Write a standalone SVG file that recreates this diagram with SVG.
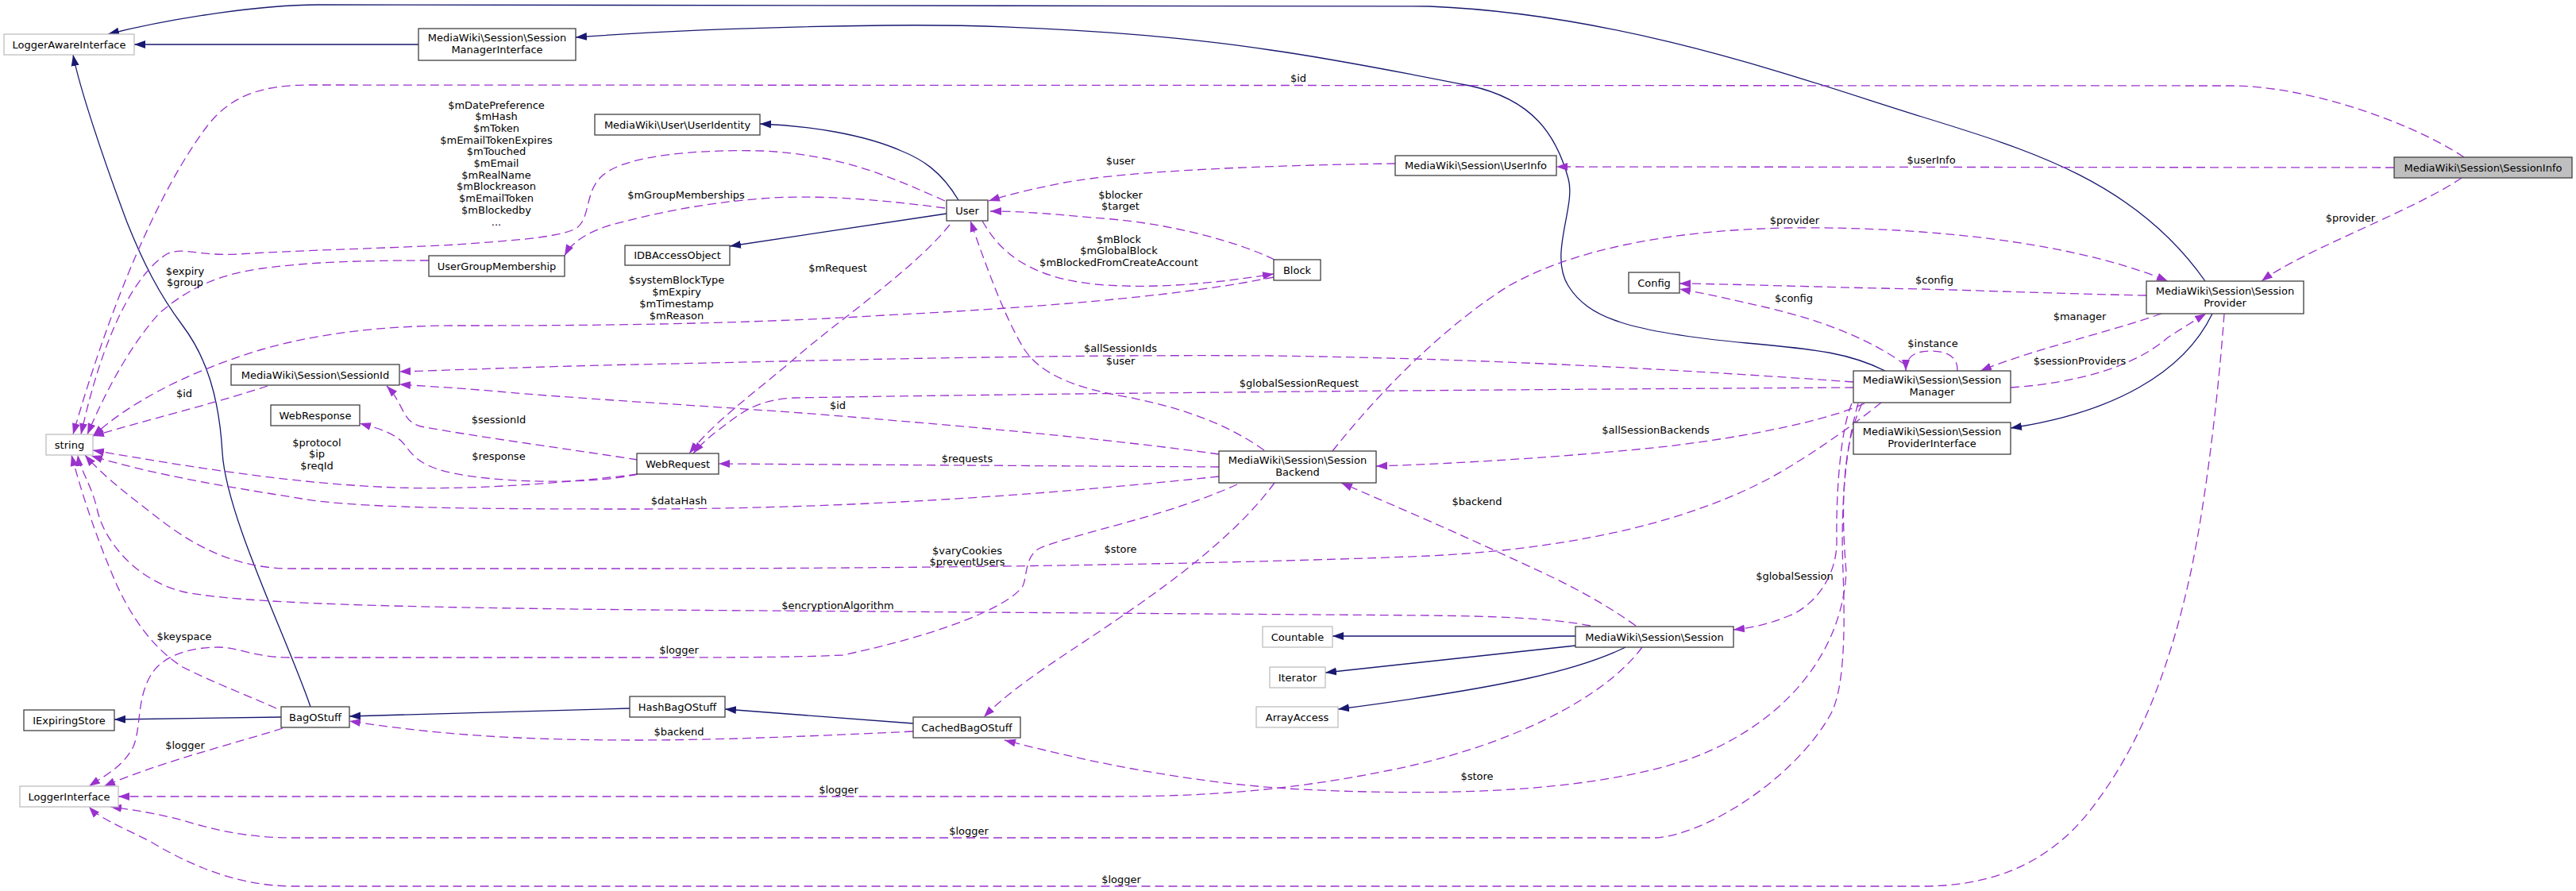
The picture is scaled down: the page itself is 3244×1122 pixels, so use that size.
<svg xmlns="http://www.w3.org/2000/svg" width="3244" height="1122" viewBox="0 0 3244 1122">
<style>
.n rect{fill:#fff;stroke:#404040;stroke-width:1.3}
.n.g rect{stroke:#bfbfbf}
.n.s rect{fill:#bfbfbf}
text{font-family:"DejaVu Sans",sans-serif;font-size:13px;fill:#000}
.n text{text-anchor:middle}
.lb text{text-anchor:middle}
.e path{fill:none;stroke:#191970;stroke-width:1.3;marker-end:url(#an)}
.u path{fill:none;stroke:#9a32cd;stroke-width:1.3;stroke-dasharray:11 6;marker-end:url(#ap)}
</style>
<defs>
<marker id="an" markerUnits="userSpaceOnUse" viewBox="0 0 15 12" markerWidth="15" markerHeight="12" refX="14" refY="6" orient="auto"><path d="M0,1 L14,6 L0,11 z" fill="#191970" stroke="none"/></marker>
<marker id="ap" markerUnits="userSpaceOnUse" viewBox="0 0 15 12" markerWidth="15" markerHeight="12" refX="14" refY="6" orient="auto"><path d="M0,1 L14,6 L0,11 z" fill="#9a32cd" stroke="none"/></marker>
</defs>
<rect width="3244" height="1122" fill="#fff"/>
<g id="connectors">
<g class="e">
<path d="M2777,354 C2690,230 2560,190 2420,147 S2050,18 1800,8 L400,6 C330,6 220,22 136,43"/>
<path d="M527,56 L169,56"/>
<path d="M2374,467 C2330,445 2290,440 2200,432 C2050,418 2000,400 1975,360 C1950,320 1985,260 1975,225 C1960,170 1930,125 1851,108 C1760,90 1650,70 1600,63 C1450,40 1250,30 1114,32 C950,34 820,40 725,47"/>
<path d="M391,890 C360,800 285,650 280,570 C276,500 260,450 230,410 C200,370 180,330 160,280 C130,200 100,110 92,69"/>
<path d="M1207,252 C1185,215 1160,200 1135,190 C1090,170 1020,158 957,156"/>
<path d="M1192,269 L919,310"/>
<path d="M2786,395 C2750,470 2660,520 2532,539"/>
<path d="M793,892 L440,902"/>
<path d="M1150,911 L913,893"/>
<path d="M1984,801 L1678,801"/>
<path d="M1984,813 L1669,847"/>
<path d="M2047,815 C1990,843 1900,865 1685,893"/>
<path d="M354,903 L144,906"/>
</g>
<g class="u">
<path d="M3103,198 C3030,150 2900,108 2810,108 L390,107 C330,107 290,120 260,160 C200,240 140,380 92,547"/>
<path d="M3015,211 L1960,210"/>
<path d="M3100,224 C3040,265 2900,315 2848,354"/>
<path d="M1757,206 C1600,208 1420,215 1340,230 C1300,238 1270,245 1245,253"/>
<path d="M1190,253 C1120,222 1060,195 960,190 C880,188 790,195 760,220 C735,240 745,275 725,288 C700,300 640,303 575,308 C480,313 380,315 300,320 C250,323 230,310 210,320 C170,345 130,420 102,547"/>
<path d="M1190,262 C1100,250 1020,245 960,250 C880,256 820,270 770,283 C740,292 720,305 711,322"/>
<path d="M540,328 C450,328 390,330 330,338 C280,345 240,360 200,395 C160,440 130,500 110,547"/>
<path d="M1605,327 C1560,305 1480,283 1400,276 C1330,270 1290,266 1247,266"/>
<path d="M1237,278 C1260,320 1300,350 1380,358 C1460,365 1540,355 1604,345"/>
<path d="M1604,349 C1500,370 1350,385 1114,397 C900,410 700,410 575,410 C480,410 400,420 330,440 C230,470 160,510 117,549"/>
<path d="M1196,283 C1150,340 1060,400 1000,452 C950,495 900,530 868,571"/>
<path d="M1592,567 C1540,530 1480,512 1420,500 C1350,488 1310,470 1290,440 C1265,400 1240,330 1222,278"/>
<path d="M2334,481 C2150,468 1900,452 1600,448 C1300,446 1000,455 800,459 C700,461 600,465 503,468"/>
<path d="M1535,572 C1400,553 1200,535 1009,520 C900,512 700,500 628,493 C570,488 530,486 503,484"/>
<path d="M2334,488 C2000,490 1400,494 1000,501 C960,503 940,515 920,530 C900,545 885,556 873,571"/>
<path d="M1535,588 L905,584"/>
<path d="M1535,600 C1300,625 1050,641 800,641 C600,641 450,640 380,628 C300,615 200,600 115,574"/>
<path d="M803,597 C700,610 580,617 500,614 C380,610 250,590 117,567"/>
<path d="M803,579 C720,566 600,550 530,537 C505,530 510,510 487,486"/>
<path d="M803,597 C740,612 600,608 549,590 C520,580 515,565 505,555 C490,542 470,538 453,533"/>
<path d="M2369,507 C2340,530 2300,560 2250,590 C2150,650 2000,690 1800,700 C1500,712 1100,716 800,716 L366,716 C300,716 250,690 209,660 C170,630 130,600 107,573"/>
<path d="M2003,788 C1950,778 1880,776 1800,775 L820,768 C500,765 300,760 230,745 C170,730 130,680 122,640 C115,610 100,590 98,573"/>
<path d="M348,892 C310,875 270,860 230,840 C190,815 160,770 140,720 C115,660 100,610 90,573"/>
<path d="M1558,610 C1470,650 1360,670 1310,690 C1290,700 1294,725 1288,738 C1270,765 1180,800 1061,825 C1000,828 900,828 800,828 L366,828 C320,828 300,815 275,815 C240,815 205,825 190,850 C172,880 178,915 168,940 C155,965 135,975 112,990"/>
<path d="M1605,608 C1560,670 1480,730 1417,773 C1350,820 1280,860 1239,903"/>
<path d="M356,917 C300,935 200,960 131,990"/>
<path d="M1150,921 C1000,928 900,932 800,932 C650,932 550,925 440,908"/>
<path d="M2060,788 C2000,745 1940,720 1882,693 C1810,660 1740,630 1689,608"/>
<path d="M2068,815 C2020,880 1900,940 1750,970 C1650,990 1550,1003 1400,1003 L149,1003"/>
<path d="M2345,508 C2320,560 2318,640 2325,720 C2320,820 2250,910 2130,955 C2000,1000 1800,1003 1620,993 C1500,985 1380,962 1265,932"/>
<path d="M2340,508 C2322,570 2318,650 2321,720 C2324,800 2322,870 2305,900 C2260,980 2150,1050 2086,1055 L370,1055 C310,1055 270,1045 230,1033 C200,1025 170,1020 139,1016"/>
<path d="M2801,395 C2795,480 2780,620 2759,720 C2735,830 2700,930 2640,1010 C2590,1080 2520,1116 2420,1116 L370,1116 C300,1116 240,1090 190,1060 C150,1040 125,1030 112,1016"/>
<path d="M2348,508 C2300,530 2200,550 2100,562 C1950,578 1800,585 1733,587"/>
<path d="M2332,508 C2318,540 2312,620 2313,680 C2314,730 2280,765 2254,775 C2230,785 2210,790 2183,793"/>
<path d="M2722,395 C2650,420 2560,440 2494,467"/>
<path d="M2532,488 C2620,482 2690,460 2730,425 C2750,412 2765,403 2778,395"/>
<path d="M2465,467 C2466,448 2450,442 2432,442 C2412,442 2400,448 2400,467"/>
<path d="M2400,460 C2360,430 2300,405 2228,388 C2180,377 2150,370 2115,364"/>
<path d="M2703,372 C2600,370 2500,366 2420,364 C2300,362 2200,358 2115,357"/>
<path d="M1678,568 C1740,490 1820,410 1900,360 C1980,315 2100,290 2250,287 C2400,285 2600,300 2730,354"/>
<path d="M337,486 C280,505 200,525 117,549"/>
</g>
<g class="lb">
<text x="1635" y="103">$id</text>
<text x="2432" y="206">$userInfo</text>
<text x="2960" y="279">$provider</text>
<text x="1411" y="207">$user</text>
<text x="625" y="136.5">$mDatePreference</text>
<text x="625" y="151.2">$mHash</text>
<text x="625" y="165.9">$mToken</text>
<text x="625" y="180.6">$mEmailTokenExpires</text>
<text x="625" y="195.3">$mTouched</text>
<text x="625" y="210">$mEmail</text>
<text x="625" y="224.7">$mRealName</text>
<text x="625" y="239.4">$mBlockreason</text>
<text x="625" y="254.1">$mEmailToken</text>
<text x="625" y="268.8">$mBlockedby</text>
<text x="625" y="283.5">...</text>
<text x="864" y="250">$mGroupMemberships</text>
<text x="233" y="346">$expiry</text>
<text x="233" y="360">$group</text>
<text x="1411" y="250">$blocker</text>
<text x="1411" y="264">$target</text>
<text x="1409" y="306">$mBlock</text>
<text x="1409" y="320">$mGlobalBlock</text>
<text x="1409" y="335">$mBlockedFromCreateAccount</text>
<text x="852" y="357">$systemBlockType</text>
<text x="852" y="372">$mExpiry</text>
<text x="852" y="387">$mTimestamp</text>
<text x="852" y="402">$mReason</text>
<text x="1055" y="342">$mRequest</text>
<text x="1411" y="443">$allSessionIds</text>
<text x="1411" y="459">$user</text>
<text x="1055" y="515">$id</text>
<text x="1636" y="487">$globalSessionRequest</text>
<text x="1218" y="582">$requests</text>
<text x="855" y="635">$dataHash</text>
<text x="399" y="562">$protocol</text>
<text x="399" y="576">$ip</text>
<text x="399" y="591">$reqId</text>
<text x="628" y="533">$sessionId</text>
<text x="628" y="579">$response</text>
<text x="1218" y="698">$varyCookies</text>
<text x="1218" y="712">$preventUsers</text>
<text x="1055" y="767">$encryptionAlgorithm</text>
<text x="232" y="806">$keyspace</text>
<text x="855" y="823">$logger</text>
<text x="1411" y="696">$store</text>
<text x="233" y="943">$logger</text>
<text x="855" y="926">$backend</text>
<text x="1860" y="636">$backend</text>
<text x="1056" y="999">$logger</text>
<text x="1860" y="982">$store</text>
<text x="1220" y="1051">$logger</text>
<text x="1412" y="1112">$logger</text>
<text x="2085" y="546">$allSessionBackends</text>
<text x="2260" y="730">$globalSession</text>
<text x="2619" y="403">$manager</text>
<text x="2619" y="459">$sessionProviders</text>
<text x="2434" y="437">$instance</text>
<text x="2259" y="380">$config</text>
<text x="2436" y="357">$config</text>
<text x="2260" y="282">$provider</text>
<text x="232" y="500">$id</text>
</g>
</g>
<g id="LoggerAwareInterface" class="n g"><rect x="5" y="43" width="164" height="26"/><text x="87" y="60.5">LoggerAwareInterface</text></g>
<g id="SessionManagerInterface" class="n"><rect x="527" y="36" width="198" height="40"/><text x="626" y="52">MediaWiki\Session\Session</text><text x="626" y="67">ManagerInterface</text></g>
<g id="UserIdentity" class="n"><rect x="749" y="144" width="208" height="26"/><text x="853" y="161.5">MediaWiki\User\UserIdentity</text></g>
<g id="User" class="n"><rect x="1192" y="252" width="52" height="26"/><text x="1218" y="269.5">User</text></g>
<g id="IDBAccessObject" class="n"><rect x="787" y="309" width="132" height="25"/><text x="853" y="326">IDBAccessObject</text></g>
<g id="UserGroupMembership" class="n"><rect x="540" y="322" width="171" height="26"/><text x="625.5" y="339.5">UserGroupMembership</text></g>
<g id="Block" class="n"><rect x="1604" y="327" width="59" height="26"/><text x="1633.5" y="344.5">Block</text></g>
<g id="UserInfo" class="n"><rect x="1757" y="196" width="203" height="25"/><text x="1858.5" y="213">MediaWiki\Session\UserInfo</text></g>
<g id="Config" class="n"><rect x="2051" y="343" width="64" height="26"/><text x="2083" y="360.5">Config</text></g>
<g id="SessionInfo" class="n s"><rect x="3015" y="198" width="224" height="26"/><text x="3127" y="215.5">MediaWiki\Session\SessionInfo</text></g>
<g id="SessionProvider" class="n"><rect x="2703" y="354" width="198" height="41"/><text x="2802" y="371">MediaWiki\Session\Session</text><text x="2802" y="386">Provider</text></g>
<g id="SessionManager" class="n"><rect x="2334" y="467" width="198" height="40"/><text x="2433" y="483">MediaWiki\Session\Session</text><text x="2433" y="498">Manager</text></g>
<g id="SessionProviderInterface" class="n"><rect x="2334" y="532" width="198" height="40"/><text x="2433" y="548">MediaWiki\Session\Session</text><text x="2433" y="563">ProviderInterface</text></g>
<g id="SessionBackend" class="n"><rect x="1535" y="568" width="198" height="40"/><text x="1634" y="584">MediaWiki\Session\Session</text><text x="1634" y="599">Backend</text></g>
<g id="WebRequest" class="n"><rect x="802" y="571" width="103" height="26"/><text x="853.5" y="588.5">WebRequest</text></g>
<g id="SessionId" class="n"><rect x="291" y="459" width="212" height="26"/><text x="397" y="476.5">MediaWiki\Session\SessionId</text></g>
<g id="WebResponse" class="n"><rect x="341" y="510" width="112" height="26"/><text x="397" y="527.5">WebResponse</text></g>
<g id="string" class="n g"><rect x="58" y="547" width="59" height="26"/><text x="87.5" y="564.5">string</text></g>
<g id="IExpiringStore" class="n"><rect x="30" y="894" width="114" height="26"/><text x="87" y="911.5">IExpiringStore</text></g>
<g id="BagOStuff" class="n"><rect x="354" y="890" width="86" height="26"/><text x="397" y="907.5">BagOStuff</text></g>
<g id="LoggerInterface" class="n g"><rect x="25" y="990" width="124" height="26"/><text x="87" y="1007.5">LoggerInterface</text></g>
<g id="HashBagOStuff" class="n"><rect x="793" y="877" width="120" height="26"/><text x="853" y="894.5">HashBagOStuff</text></g>
<g id="CachedBagOStuff" class="n"><rect x="1150" y="903" width="135" height="26"/><text x="1217.5" y="920.5">CachedBagOStuff</text></g>
<g id="Countable" class="n g"><rect x="1590" y="789" width="88" height="26"/><text x="1634" y="806.5">Countable</text></g>
<g id="Iterator" class="n g"><rect x="1599" y="840" width="70" height="26"/><text x="1634" y="857.5">Iterator</text></g>
<g id="ArrayAccess" class="n g"><rect x="1582" y="890" width="103" height="26"/><text x="1633.5" y="907.5">ArrayAccess</text></g>
<g id="Session" class="n"><rect x="1984" y="789" width="199" height="26"/><text x="2083.5" y="806.5">MediaWiki\Session\Session</text></g>
</svg>
